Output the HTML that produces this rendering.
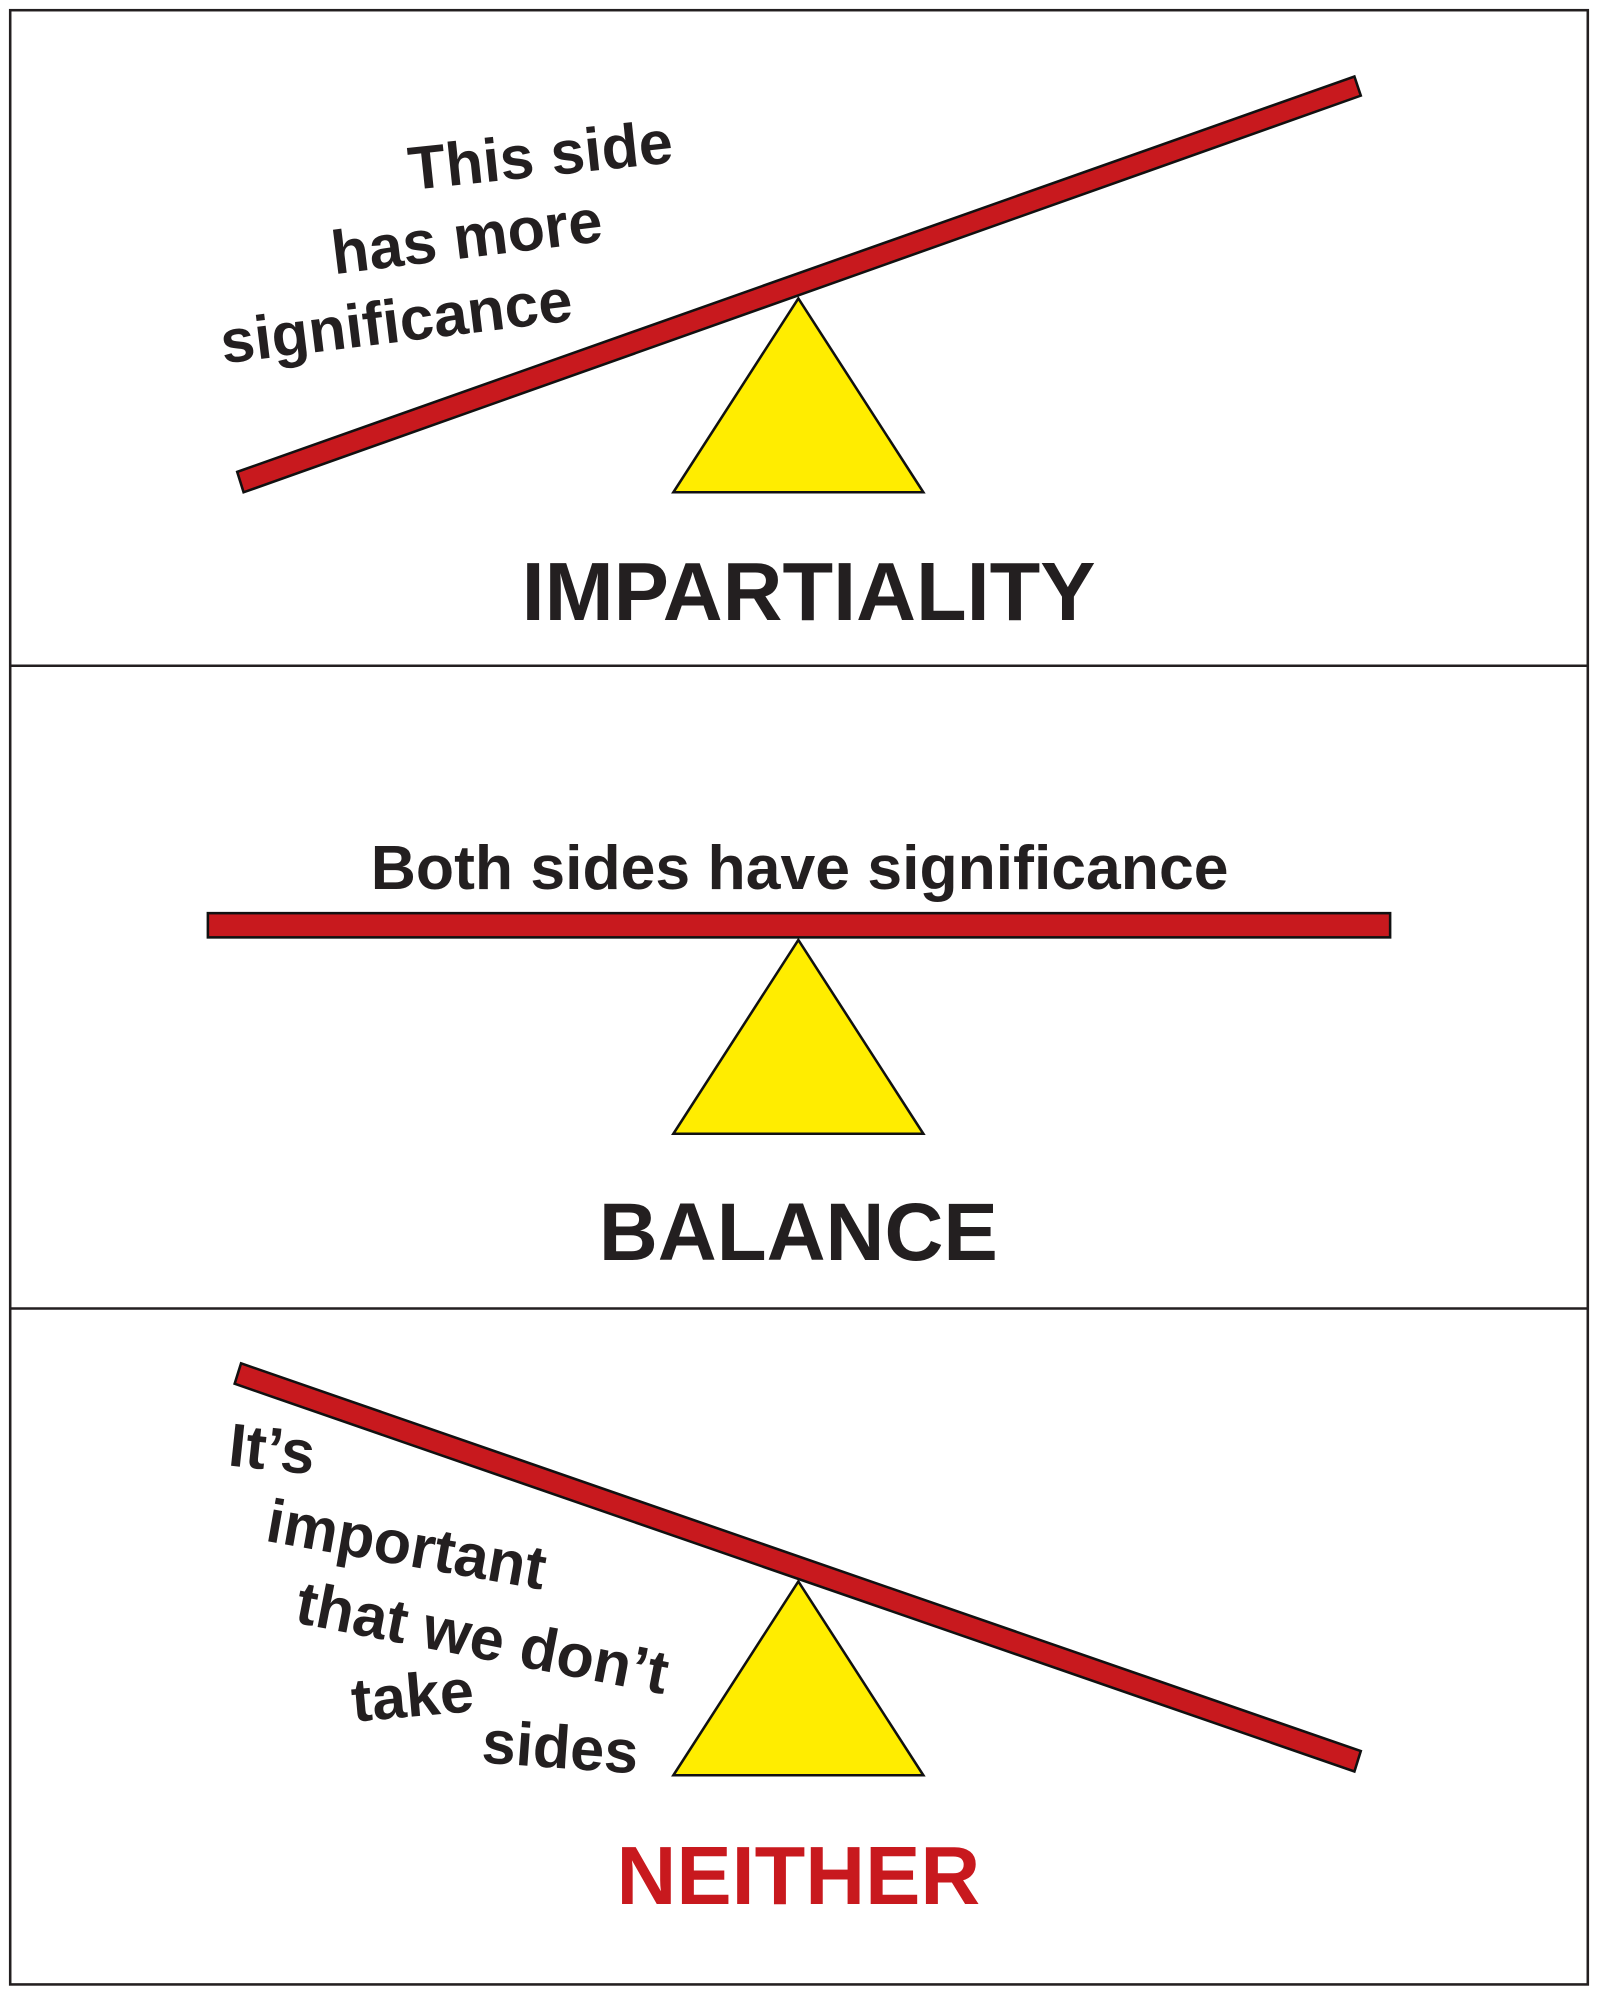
<!DOCTYPE html>
<html><head><style>
html,body{margin:0;padding:0;background:#fff;}
svg{display:block;}
text{font-family:"Liberation Sans",sans-serif;font-weight:bold;fill:#231f20;}
</style></head><body>
<svg width="1598" height="2000" viewBox="0 0 1253 1568.2" preserveAspectRatio="none">
<rect x="8" y="8" width="1237" height="1548" fill="#fff" stroke="#231f20" stroke-width="2"/>
<line x1="8" y1="522" x2="1245" y2="522" stroke="#231f20" stroke-width="2"/>
<line x1="8" y1="1026" x2="1245" y2="1026" stroke="#231f20" stroke-width="2"/>

<!-- panel 1 -->
<polygon points="186,370 1062,60 1067,75 191,386" fill="#c8191e" stroke="#111" stroke-width="2"/>
<polygon points="626,234 528,386 724,386" fill="#ffed00" stroke="#111" stroke-width="2"/>
<text font-size="48" transform="translate(322,149) rotate(-6)">This side</text>
<text font-size="48" transform="translate(262,215) rotate(-7)">has more</text>
<text font-size="48" transform="translate(175,285) rotate(-7)">significance</text>
<text x="634" y="486" font-size="65" text-anchor="middle">IMPARTIALITY</text>

<!-- panel 2 -->
<rect x="163" y="716" width="927" height="19" fill="#c8191e" stroke="#111" stroke-width="2"/>
<polygon points="626,737 528,889 724,889" fill="#ffed00" stroke="#111" stroke-width="2"/>
<text x="627" y="697" font-size="49" text-anchor="middle">Both sides have significance</text>
<text x="626" y="988" font-size="64" text-anchor="middle">BALANCE</text>

<!-- panel 3 -->
<polygon points="189,1069 1067,1373 1062,1389 184,1085" fill="#c8191e" stroke="#111" stroke-width="2"/>
<polygon points="626,1240 528,1392 724,1392" fill="#ffed00" stroke="#111" stroke-width="2"/>
<text font-size="48" transform="translate(178,1149) rotate(6)">It’s</text>
<text font-size="48" transform="translate(207,1208) rotate(10)">important</text>
<text font-size="48" transform="translate(230,1272) rotate(11)">that we don’t</text>
<text font-size="48" transform="translate(277,1350) rotate(-5)">take</text>
<text font-size="48" transform="translate(377,1382) rotate(4)">sides</text>
<text x="626" y="1493" font-size="65" text-anchor="middle" style="fill:#c8191e">NEITHER</text>
</svg>
</body></html>
